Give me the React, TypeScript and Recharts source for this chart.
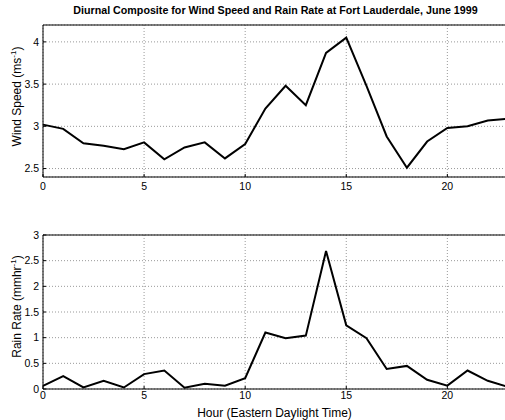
import {CartesianGrid, Line, LineChart, ReferenceLine, XAxis, YAxis} from 'recharts'
import {JSX} from 'react'

const HOURS = [0, 1, 2, 3, 4, 5, 6, 7, 8, 9, 10, 11, 12, 13, 14, 15, 16, 17, 18, 19, 20, 21, 22, 23]
const WIND_SPEED = [3.02, 2.97, 2.8, 2.77, 2.73, 2.81, 2.61, 2.75, 2.81, 2.62, 2.79, 3.21, 3.48, 3.25, 3.87, 4.05, 3.48, 2.88, 2.51, 2.82, 2.98, 3.0, 3.07, 3.09]
const RAIN_RATE = [0.06, 0.25, 0.03, 0.16, 0.03, 0.29, 0.36, 0.025, 0.1, 0.065, 0.21, 1.1, 0.99, 1.04, 2.69, 1.24, 0.99, 0.39, 0.45, 0.18, 0.065, 0.36, 0.16, 0.04]
const X_TICKS = [0, 5, 10, 15, 20]
const WIND_TICKS = [2.5, 3, 3.5, 4]
const RAIN_TICKS = [0, 0.5, 1, 1.5, 2, 2.5, 3]

const windData = HOURS.map((h, i) => ({hour: h, value: WIND_SPEED[i]}))
const rainData = HOURS.map((h, i) => ({hour: h, value: RAIN_RATE[i]}))

const FONT = '"Liberation Sans", Arial, sans-serif'
const tickStyle = {fontSize: 10.5, fill: '#000', fontFamily: FONT}

const App = (): JSX.Element => {
	return (
		<div style={{position: 'absolute', left: 0, top: 0, width: 505, height: 420, overflow: 'hidden', background: '#fff'}}>
			{/* 풍속 */}
			<div style={{position: 'absolute', left: 0, top: 0}}>
				<LineChart width={520} height={200} data={windData} margin={{top: 25, right: 12, left: 0, bottom: 0}}>
					<CartesianGrid stroke='#999' strokeDasharray='1 2' />
					<XAxis dataKey='hour' type='number' domain={[0, 23]} ticks={X_TICKS} height={23} tickSize={-3} tickMargin={9} tick={tickStyle} stroke='#000' />
					<YAxis type='number' domain={[2.4, 4.2]} ticks={WIND_TICKS} width={43} tickSize={-3} tickMargin={7} tick={tickStyle} stroke='#000' />
					<ReferenceLine y={4.2} stroke='#000' />
					<Line dataKey='value' type='linear' stroke='#000' strokeWidth={2} dot={false} isAnimationActive={false} />
				</LineChart>
			</div>

			{/* 강우율 */}
			<div style={{position: 'absolute', left: 0, top: 210}}>
				<LineChart width={520} height={210} data={rainData} margin={{top: 25, right: 12, left: 0, bottom: 0}}>
					<CartesianGrid stroke='#999' strokeDasharray='1 2' />
					<XAxis dataKey='hour' type='number' domain={[0, 23]} ticks={X_TICKS} height={31} tickSize={-3} tickMargin={6} tick={tickStyle} stroke='#000' />
					<YAxis type='number' domain={[0, 3]} ticks={RAIN_TICKS} width={43} tickSize={-3} tickMargin={7} tick={tickStyle} stroke='#000' />
					<ReferenceLine y={3} stroke='#000' />
					<Line dataKey='value' type='linear' stroke='#000' strokeWidth={2} dot={false} isAnimationActive={false} />
				</LineChart>
			</div>

			{/* 제목, 축 이름 */}
			<svg width={505} height={420} style={{position: 'absolute', left: 0, top: 0, pointerEvents: 'none'}} fontFamily={FONT}>
				<text x={275.5} y={14} textAnchor='middle' fontSize={10.7} fontWeight='bold'>
					Diurnal Composite for Wind Speed and Rain Rate at Fort Lauderdale, June 1999
				</text>
				<text transform='translate(21,96.5) rotate(-90)' textAnchor='middle' fontSize={12}>
					Wind Speed (ms<tspan dy={-5} fontSize={8}>-1</tspan><tspan dy={5}>)</tspan>
				</text>
				<text transform='translate(21,306.5) rotate(-90)' textAnchor='middle' fontSize={12}>
					Rain Rate (mmhr<tspan dy={-5} fontSize={8}>-1</tspan><tspan dy={5}>)</tspan>
				</text>
				<text x={274.5} y={417} textAnchor='middle' fontSize={12}>
					Hour (Eastern Daylight Time)
				</text>
			</svg>
		</div>
	)
}

export default App
